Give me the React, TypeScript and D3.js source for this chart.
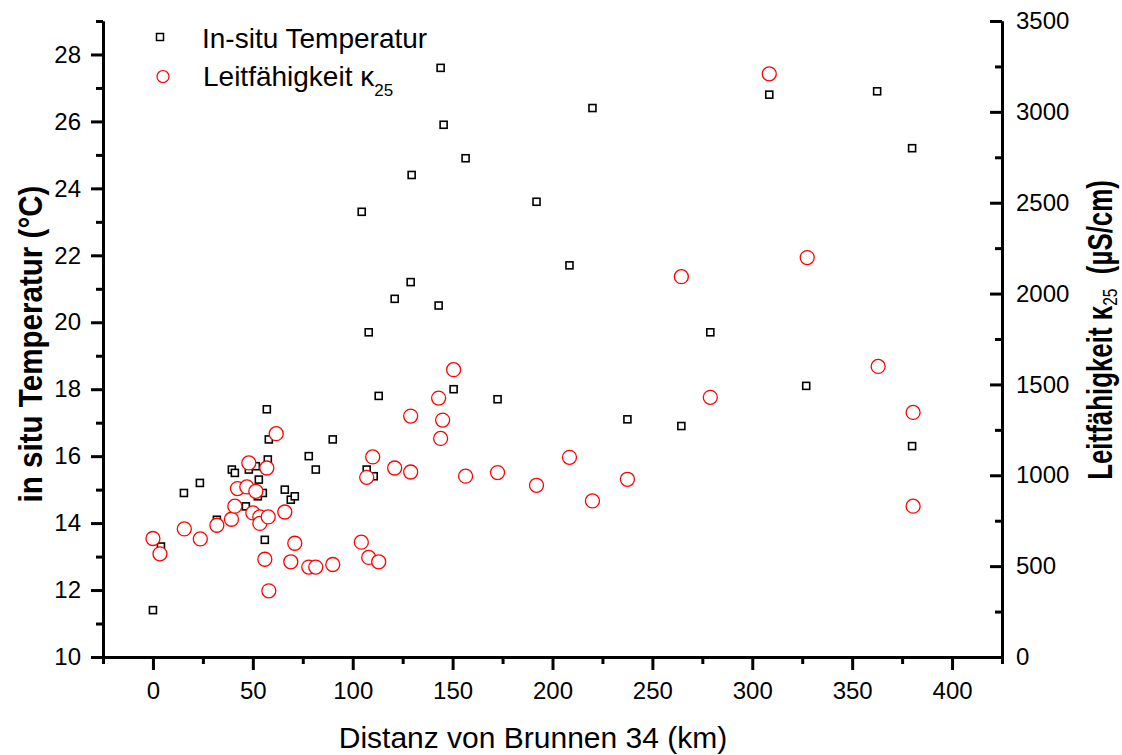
import React, { useEffect, useRef } from "react";
import * as d3 from "d3";

// Distance (km) and in-situ temperature (°C)
const distT = [0, 4, 15.5, 23.5, 32, 39.5, 41, 48, 51.5, 53, 55, 52.5, 46.5, 56, 57, 58, 57.5, 66, 69, 71, 78, 81.5, 90,
  104.5, 107, 108, 110.5, 113, 121, 129, 129.5, 143, 144, 145.5, 150.5, 156.5, 172.5, 192, 208.5, 220, 237.5, 264.5,
  279, 308.5, 327, 362.5, 380, 380];
const temp = [11.4, 13.3, 14.9, 15.2, 14.1, 15.6, 15.5, 15.6, 15.7, 15.3, 14.9, 14.8, 14.5, 13.5, 17.4, 16.5, 15.9, 15.0,
  14.7, 14.8, 16.0, 15.6, 16.5, 23.3, 15.6, 19.7, 15.4, 17.8, 20.7, 21.2, 24.4, 20.5, 27.6, 25.9, 18.0, 24.9, 17.7, 23.6,
  21.7, 26.4, 17.1, 16.9, 19.7, 26.8, 18.1, 26.9, 25.2, 16.3];

// Distance (km) and conductivity kappa25 (µS/cm)
const distK = [0, 3.5, 15.7, 23.7, 32, 39.3, 41, 42.3, 47, 48, 51.5, 50, 53.5, 53.5, 57.7, 57, 61.7, 66, 71, 56, 58, 69,
  78, 81.5, 90, 104.3, 108, 113, 107, 110, 121, 129, 129, 143, 145, 144, 150.5, 156.5, 172.5, 192, 208.5, 220, 237.5,
  264.5, 279, 308.5, 327.5, 363, 380.5, 380.5];
const kappa = [652, 568, 705, 650, 725, 758, 830, 927, 936, 1068, 912, 793, 771, 735, 771, 1040, 1229, 798, 626, 538, 364,
  524, 495, 495, 509, 632, 548, 524, 989, 1101, 1040, 1018, 1326, 1425, 1304, 1203, 1581, 995, 1015, 945, 1099, 859, 978,
  2093, 1429, 3209, 2198, 1599, 1346, 830];

const xMajor = [0, 50, 100, 150, 200, 250, 300, 350, 400];
const xMinor = [-25, 25, 75, 125, 175, 225, 275, 325, 375, 425];
const yLMajor = [10, 12, 14, 16, 18, 20, 22, 24, 26, 28];
const yLMinor = [11, 13, 15, 17, 19, 21, 23, 25, 27, 29];
const yRMajor = [0, 500, 1000, 1500, 2000, 2500, 3000, 3500];
const yRMinor = [250, 750, 1250, 1750, 2250, 2750, 3250];

const FONT = "'Liberation Sans', Arial, Helvetica, sans-serif";

export default function App() {
  const ref = useRef<SVGSVGElement>(null);
  const L = 103, R = 1002, T = 21, B = 657;

  useEffect(() => {
    const svg = d3.select(ref.current);
    svg.selectAll("*").remove();
    const x = d3.scaleLinear().domain([-25, 425]).range([L, R]);
    const yL = d3.scaleLinear().domain([10, 29]).range([B, T]);
    const yR = d3.scaleLinear().domain([0, 3500]).range([B, T]);

    const styleAxis = (g: any) => {
      g.attr("font-family", FONT).attr("font-size", 24);
      g.selectAll("path").attr("stroke", "#000").attr("stroke-width", 3);
      g.selectAll("line").attr("stroke", "#000").attr("stroke-width", 3);
      g.selectAll("text").attr("fill", "#000");
    };

    // bottom
    svg.append("g").attr("transform", `translate(0,${B})`)
      .call(d3.axisBottom(x).tickValues(xMinor).tickSize(7).tickFormat(() => "").tickSizeOuter(0)).call(styleAxis);
    svg.append("g").attr("transform", `translate(0,${B})`)
      .call(d3.axisBottom(x).tickValues(xMajor).tickSize(13).tickPadding(12).tickSizeOuter(0).tickFormat(d3.format("d"))).call(styleAxis);
    // left
    svg.append("g").attr("transform", `translate(${L},0)`)
      .call(d3.axisLeft(yL).tickValues(yLMinor).tickSize(7).tickFormat(() => "").tickSizeOuter(0)).call(styleAxis);
    svg.append("g").attr("transform", `translate(${L},0)`)
      .call(d3.axisLeft(yL).tickValues(yLMajor).tickSize(12).tickPadding(10).tickSizeOuter(0).tickFormat(d3.format("d"))).call(styleAxis);
    // right
    svg.append("g").attr("transform", `translate(${R},0)`)
      .call(d3.axisRight(yR).tickValues(yRMinor).tickSize(-7).tickFormat(() => "").tickSizeOuter(0)).call(styleAxis);
    svg.append("g").attr("transform", `translate(${R},0)`)
      .call(d3.axisRight(yR).tickValues(yRMajor).tickSizeInner(-12).tickPadding(14).tickSizeOuter(0).tickFormat(d3.format("d"))).call(styleAxis);

    // squares
    const s = 7;
    svg.append("g").selectAll("rect").data(distT.map((d, i) => [d, temp[i]])).join("rect")
      .attr("x", (d) => x(d[0]) - s / 2).attr("y", (d) => yL(d[1]) - s / 2)
      .attr("width", s).attr("height", s).attr("fill", "#fff").attr("stroke", "#000").attr("stroke-width", 1.6);
    // circles
    svg.append("g").selectAll("circle").data(distK.map((d, i) => [d, kappa[i]])).join("circle")
      .attr("cx", (d) => x(d[0])).attr("cy", (d) => yR(d[1])).attr("r", 7)
      .attr("fill", "#fff").attr("stroke", "#ff0000").attr("stroke-width", 1.3);

    // legend
    const lg = svg.append("g").attr("font-family", FONT).attr("font-size", 28).attr("fill", "#000");
    lg.append("rect").attr("x", 160 - 3.5).attr("y", 37 - 3.5).attr("width", 7).attr("height", 7)
      .attr("fill", "#fff").attr("stroke", "#000").attr("stroke-width", 1.5);
    lg.append("text").attr("x", 202).attr("y", 48).text("In-situ Temperatur");
    lg.append("circle").attr("cx", 163).attr("cy", 76.5).attr("r", 6).attr("fill", "#fff").attr("stroke", "#ff0000").attr("stroke-width", 1.2);
    const lt = lg.append("text").attr("x", 203).attr("y", 86);
    lt.append("tspan").text("Leitfähigkeit κ");
    lt.append("tspan").attr("dy", 10).attr("font-size", 17).text("25");

    // x title
    svg.append("text").attr("x", 533).attr("y", 748).attr("text-anchor", "middle")
      .attr("font-family", FONT).attr("font-size", 30).text("Distanz von Brunnen 34 (km)");

    // left title
    svg.append("text").attr("transform", "translate(42,344) rotate(-90) scale(0.87,1)")
      .attr("text-anchor", "middle").attr("font-family", FONT).attr("font-weight", "bold").attr("font-size", 34)
      .text("in situ Temperatur (°C)");

    // right title
    const rt = svg.append("text").attr("transform", "translate(1112,330) rotate(-90) scale(0.74,1)")
      .attr("text-anchor", "middle").attr("font-family", FONT).attr("font-weight", "bold").attr("font-size", 35);
    rt.append("tspan").text("Leitfähigkeit κ");
    rt.append("tspan").attr("dy", 5).attr("font-size", 21).attr("font-weight", "normal").text("25");
    rt.append("tspan").attr("dy", -5).text("\u00A0\u00A0(µS/cm)");
  }, []);

  return (
    <svg ref={ref} width={1122} height={755} style={{ position: "absolute", left: 0, top: 0, background: "#fff" }} />
  );
}
